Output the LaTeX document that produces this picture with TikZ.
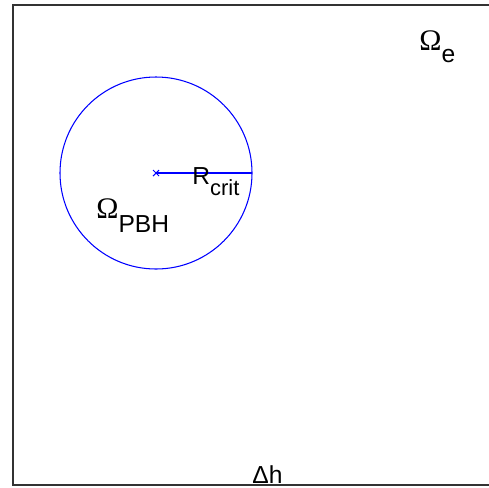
\documentclass[tikz,border=0pt]{standalone}
\usepackage{fontspec}
\setmainfont{Liberation Sans}
\newfontfamily\omegafont{Liberation Serif}
\usetikzlibrary{positioning,calc}
\tikzset{
  rand/.style={draw=black!80,line width=0.6pt},
  kreis/.style={draw=blue,color=blue,line width=0.6pt},
  lab/.style={inner sep=0pt,anchor=base west,font=\fontsize{14}{16}\selectfont},
}
\newcommand{\Om}{{\omegafont\fontsize{17}{19}\selectfont\symbol{"03A9}}}

\begin{document}
\begin{tikzpicture}[x=0.02cm,y=-0.02cm]
  \useasboundingbox (0,0) rectangle (489,487);
  % domain boundary
  \draw[rand] (489,5) -- (13,5) -- (13,485) -- (489,485);
  % critical circle
  \coordinate (m) at (156,173);
  \coordinate (r) at (252,173);
  \draw[kreis] (m) circle[radius=96];
  \draw[kreis] (m) -- (r);
  \draw[kreis] ($(m)+(-3,-3)$) -- ($(m)+(3,3)$) ($(m)+(-3,3)$) -- ($(m)+(3,-3)$);
  % labels
  \node[lab] (rcrit) at (192,184) {R\raisebox{-6.5pt}{\fontsize{12.5}{14}\selectfont crit}};
  \node[lab] (opbh) at (96,218) {\Om\raisebox{-8pt}{PBH}};
  \node[lab] (oe) at (419,50) {\Om\raisebox{-7pt}{e}};
  \node[lab] (dh) at (252,483) {\symbol{"0394}h};
\end{tikzpicture}
\end{document}
